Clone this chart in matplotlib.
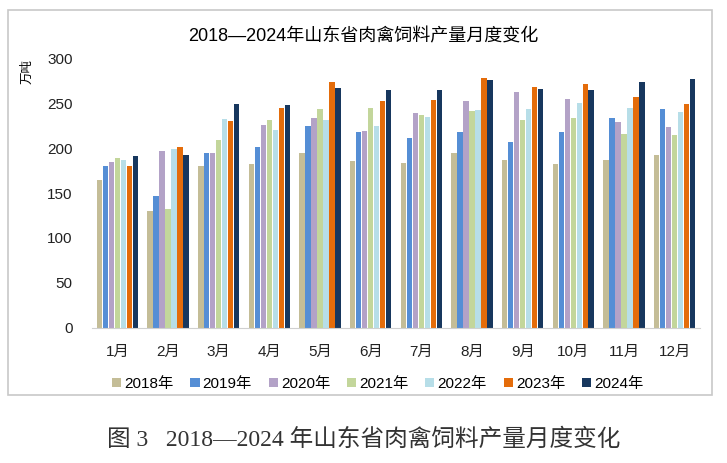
import matplotlib
matplotlib.use('Agg')
import matplotlib.pyplot as plt
import numpy as np
from matplotlib.patches import Rectangle

plt.rcParams['font.family'] = ['Liberation Sans', 'Noto Sans CJK SC', 'DejaVu Sans']

# monthly output, 10k tonnes
months = ["1月", "2月", "3月", "4月", "5月", "6月", "7月", "8月", "9月", "10月", "11月", "12月"]
years = ["2018年", "2019年", "2020年", "2021年", "2022年", "2023年", "2024年"]
y2018 = [165, 130, 180, 182, 195, 186, 183, 195, 187, 182, 187, 192]
y2019 = [180, 147, 194, 201, 224, 218, 211, 218, 207, 218, 233, 243]
y2020 = [185, 197, 194, 226, 233, 219, 239, 252, 262, 254, 229, 223]
y2021 = [189, 132, 209, 231, 243, 245, 237, 241, 231, 233, 216, 214]
y2022 = [187, 199, 232, 220, 231, 224, 234, 242, 243, 250, 245, 240]
y2023 = [180, 201, 230, 244, 273, 252, 253, 278, 268, 271, 257, 249]
y2024 = [191, 192, 249, 248, 267, 265, 264, 276, 266, 264, 273, 277]
series = [y2018, y2019, y2020, y2021, y2022, y2023, y2024]
colors = ["#C4BD97", "#558ED5", "#B3A2C7", "#C3D69B", "#B7DEE8", "#E46C0A", "#17375E"]

fig = plt.figure(figsize=(7.27, 4.63), dpi=100)
ax = fig.add_axes([0.1266, 0.2916, 0.8362, 0.5831])

x = np.arange(len(months))
w = 0.118
for i, vals in enumerate(series):
    ax.bar(x + (i - 3) * w, vals, width=w * 0.92, color=colors[i], label=years[i])

ax.set_xlim(-0.5, 11.5)
ax.set_ylim(0, 300)
ax.set_yticks(range(0, 301, 50))
ax.set_xticks(x)
ax.set_xticklabels(months)
ax.tick_params(axis='both', length=0, labelsize=11, colors='#222222')
ax.tick_params(axis='x', pad=12)
ax.tick_params(axis='y', pad=14)
for s in ['top', 'right', 'left']:
    ax.spines[s].set_visible(False)
ax.spines['bottom'].set_color('#d0d0d0')

fig.text(0.038, 0.845, "万吨", rotation=90, fontsize=9, ha='center', va='center')
fig.text(0.5, 0.92, "2018—2024年山东省肉禽饲料产量月度变化", fontsize=13, ha='center', va='center')

ax.legend(loc='upper center', bbox_to_anchor=(0.47, -0.13), ncol=7, frameon=False,
          fontsize=11, handlelength=0.6, handleheight=0.6, handletextpad=0.2, columnspacing=1.1)

fig.patches.append(Rectangle((0.011, 0.147), 0.968, 0.831, transform=fig.transFigure,
                             fill=False, edgecolor='#c8c8c8', linewidth=1.2))

fig.text(0.5, 0.05, "图 3   2018—2024 年山东省肉禽饲料产量月度变化", fontsize=17,
         ha='center', va='center', color='#333333',
         family=['Liberation Serif', 'Noto Sans CJK SC', 'DejaVu Sans'])

fig.savefig("out.png", dpi=100)
